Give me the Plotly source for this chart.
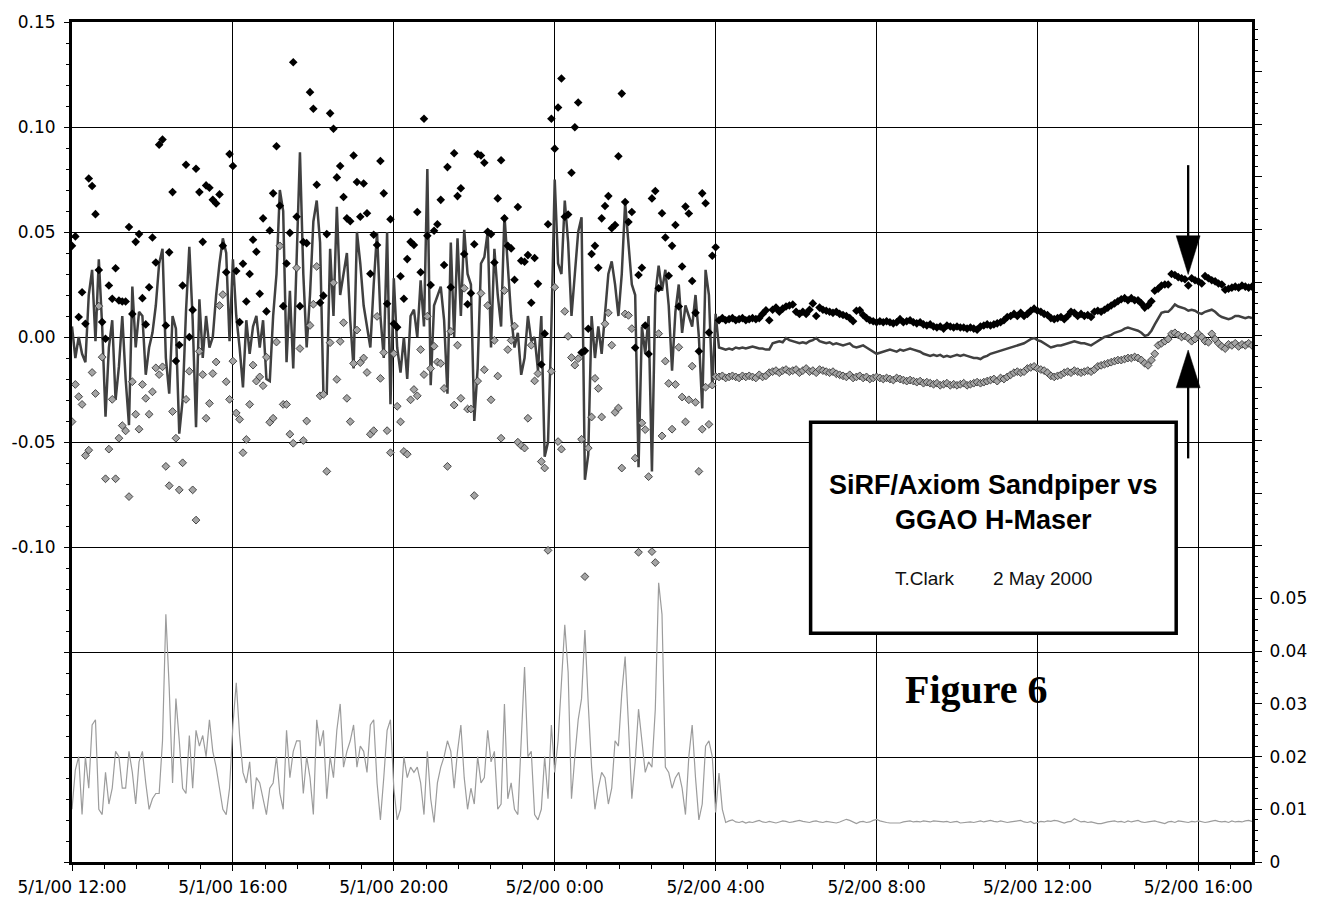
import plotly.graph_objects as go
import pandas as pd

# ---------------- data (values in thousandths of the axis unit) ----------------
# 5-minute samples, 5/1/00 12:00 -> 5/2/00 4:00 (left part) and 4:05 -> 17:20 (right part)
black_left = [
    43.4, 47.9, 9.5, 21.3, 6.3, 75.5, 71.9, 58.5, 31.9, 7.1,
    -0.8, 24.5, 18.2, 32.7, 17.4, 16.9, 16.9, 52.4, 11.0, 45.3,
    49.0, 18.5, 6.0, 23.7, 47.4, 35.5, 91.6, 94.0, 5.5, 40.3,
    69.0, -11.4, -3.8, 24.5, 82.0, 0.0, 12.9, 80.1, 69.0, 45.3,
    72.2, 71.1, 65.3, 63.6, 67.9, 43.4, 30.8, 87.1, 81.4, 31.4,
    7.1, 34.9, 16.9, 30.0, 46.3, 40.6, 20.6, 56.5, 12.2, 50.7,
    68.4, 90.8, 62.5, 14.7, 35.0, 49.6, 130.8, 57.3, 14.7, 45.2,
    44.7, 116.6, 108.7, 72.5, 16.3, 19.7, 49.0, 106.5, 99.2, 76.0,
    81.4, 66.7, 56.5, 55.1, 86.4, 73.8, 57.3, 73.1, 58.9, 30.1,
    48.7, 43.8, 83.8, 68.4, 15.8, 56.1,
    6.3, 4.7, 28.9, 18.2, 37.1, 45.3, 43.8, 59.5, 30.8, 103.9,
    48.2, 24.8, 50.6, 53.7, 65.3, 34.3, 80.9, 23.7, 87.5, 67.1,
    70.8, 39.5, 15.6, 20.8, 44.2, 87.1, 86.4, 83.0, 50.1, 49.0,
    35.5, 66.0, 84.2, 56.5, 43.4, 42.2, 27.3, 61.9, 36.3, 35.8,
    39.0, 16.3, 37.6, 25.3, -13.1, 1.6, 53.7, 103.9, 89.7, 109.3,
    123.1, 57.3, 58.3, 78.2, 99.9, 111.7, -7.4, -6.6, 3.9, 39.5,
    43.4, 33.0, 56.5, 62.4, 67.1, 51.8, 53.3, 86.1, 115.9, 64.3,
    54.8, 59.5, -5.1, 29.5, 33.0, 5.5, -8.1, 66.0, 69.5, 23.2,
    58.9, 47.4, 29.2, 43.4, 53.3, 14.5, 33.6, 62.1, 58.8, 26.7,
    11.5, -6.8, 68.4, 63.7, 2.1, 38.7, 42.7,
]
black_right = [
    8, 9, 8, 8.5, 9, 8, 8.5, 9, 8, 8.5, 9, 8.5, 9,
    11, 12.7, 8, 13, 14, 12, 13.5, 14.5, 15, 15.5, 12, 11, 12, 11, 13, 16, 10,
    14, 13, 12.5, 12, 11.5, 12, 11, 10.5, 10, 9,
    7.5, 12.5, 12.7, 10.5, 9, 8, 7.5, 7, 7.5, 7, 7.5, 7, 6.5, 7, 8.5, 7, 7.5, 8, 7, 6.5,
    7, 6, 5.5, 6, 5, 4.5, 5, 4, 5.5, 5, 4.5, 5, 4.5, 4.5, 4, 4.5, 4, 3.5, 5, 5.5,
    6, 5.5, 6, 6.5, 7, 8, 9.5, 10, 11, 10, 11.5, 10, 11, 12.5, 13.5, 12.5, 12, 11, 10.5, 9,
    8.5, 9, 9.5, 8.5, 10, 12, 11.5, 10, 11, 10, 10.5, 9.5, 12, 12.5, 12, 13, 14, 15, 16, 17,
    18, 18.5, 17.5, 18.5, 17.5, 17.5, 16, 14, 15, 17, 22, 23, 24.5, 25, 25, 30, 29.5, 28.5, 28, 27.5,
    24.5, 28, 27, 26.5, 25.5, 29, 28, 27, 26.5, 25.5, 25, 22.5, 23, 23.5, 24, 23.5, 24.5, 24, 23.5, 24,
]
gray_left = [
    -40.3, -22.6, -28.4, -32.1, -56.4, -53.9, -16.9, -26.9, 14.7, -9.6,
    -67.5, -53.4, -29.7, -67.5, -48.2, -42.2, -44.7, -76.0, -21.3, -36.8,
    -43.9, -22.6, -29.2, -36.8, -26.1, -14.7, -17.9, -14.2, -61.6, -70.8,
    -35.5, -48.2, -72.8, -59.9, -29.7, -16.3, -72.8, -87.2, -6.8, -17.9,
    -38.7, -31.6, -17.4, -11.9, 15.0, 20.2, -21.3, -29.7, -11.5, -36.2,
    -39.2, -55.1, -48.8, -32.1, -13.4, -21.0, -19.0, -23.2, -9.6, -40.6,
    -38.7, -2.4, 43.4, -32.1, -32.1, -46.3, -50.6, 32.9, -5.5, -49.3,
    -40.0, 5.5, 15.6, 33.6, -28.0, -27.3, -64.0, -2.7, 25.8, -20.2,
    -2.1, 6.8, -29.2, -40.3, -12.6, 3.3, -12.2, -10.0, -16.9, -46.3,
    -44.6, 9.8, -19.7, -7.4, -44.6, -55.1,
    -7.9, -33.0, -40.4, -54.5, -55.8, -29.9, -25.0, -28.0, -6.0, -17.9,
    9.9, -15.0, -4.4, -11.9, -12.6, -24.5, -61.6, 2.7, -32.4, -3.9,
    -29.2, 23.2, -34.3, -34.3, -75.5, -21.0, 20.8, -15.6, 15.0, -29.9,
    -1.6, -18.6, -48.2, 22.1, -6.0, -1.6, 5.2, -50.1, -51.7, -52.9,
    -38.7, -3.9, -20.9, -17.4, -59.3, -62.4, -101.6, -16.3, 23.7, -49.8,
    -53.4, 12.2, 0.3, -9.8, -13.4, -10.3, -48.7, -114.1, -52.9, -38.1,
    -19.7, -24.5, -38.1, 6.3, 11.5, -3.9, -35.9, -33.8, -62.4, 11.0,
    10.3, 4.0, -57.7, -102.5, -40.9, -44.1, -66.5, -102.2, -107.4, 1.6,
    -47.1, -11.5, -22.1, -43.9, -22.6, -4.9, -28.6, -40.4, -29.9, -13.9,
    -31.1, -64.0, -43.9, -23.9, -41.6, -22.9, -18.9,
]
gray_right = [
    -19, -18.5, -19.5, -19, -18.5, -19, -19.5, -18.5, -19, -18.5, -19, -19.5, -18, -19, -18.5,
    -17, -16.5, -16, -17, -16, -15.5, -16.5, -16, -15.5, -17, -16, -15, -16.5, -16, -17,
    -15.5, -16, -16.5, -17, -16.5,
    -17.5, -18, -18.5, -19, -18, -19.5, -19, -18.5, -19.5, -19, -20, -19.5, -19, -19.5, -20,
    -19.5, -20, -20.5, -19.5, -20, -20.5, -21, -20.5, -21, -21.5, -21, -22, -21.5, -22, -22.5,
    -22, -23, -22.5, -22, -23, -22.5, -23, -22.5, -22, -23, -22.5, -22, -21.5, -22, -21.5,
    -21, -20.5, -20, -21, -19.5, -20, -19, -18, -17, -16.5,
    -17, -16.5, -15, -14.5, -14, -15, -15.5, -16, -17, -18.5,
    -19, -18.5, -18, -17, -16.5, -17, -16, -16.5, -17, -16.5, -16, -16.5, -15.5, -14, -13.5,
    -13, -12.5, -12, -11.5, -11, -11, -10.5, -10, -10, -9.5, -10, -11, -12.5, -13.5, -11,
    -8, -4, -3, -2, -1, 1.5, 2, 1, 0, 0.5, -0.5, -2, -1, 1.5, 0,
    -2, -2.5, 1.5, -1, -3, -4.5, -5.5, -3.5, -4, -3, -4.5, -3.5, -4, -3, -4,
]
dark_left = [
    5, -10, 0, -8, -12, 20, 32, -2, 37, 5,
    -38, -5, 8, -30, -14, 10, -20, -42, 24, -5,
    12, 10, -18, -5, 2, 15, 35, 42, -10, -27,
    10, 4, -46, -30, 12, 43, 8, -43, 18, -10,
    10, -5, 0, 20, 35, 47, 40, -2, 37, 10,
    -5, -24, 8, -8, 5, 10, -5, 8, -20, -21,
    10, 30, 70, 60, -12, 22, -15, 40, 88, 30,
    -5, 20, 55, 65, 45, -27, -27, 42, 10, 62,
    20, 30, 40, 8, -15, 50, 35, 15, 5, -5,
    25, 50, 10, -10, 50, -32,
    28, -5, -17, 0, -20, 10, 13, 0, 27, 5,
    80, -23, 15, 20, 24, 8, -27, 45, 0, 47,
    10, 51, 30, 25, -40, -15, 35, 38, 50, -5,
    42, 20, 5, 58, 35, 10, -5, 2, -18, -10,
    10, -2, 0, -16, 10, -57, -50, 5, 75, 35,
    30, 65, 45, 10, 30, 50, 57, -68, -56, 10,
    -10, 5, -8, 12, 30, 36, 25, 10, 30, 64,
    45, 25, 20, -62, 5, -8, 10, -64, 20, 34,
    22, 32, 15, -16, 12, 25, 2, 15, 10, 5,
    20, 0, -34, 32, 20, -24, 11,
]
dark_right = [
    -5, -5.5, -6, -5.5, -6, -5, -5.5, -5, -5.5, -5, -4.5, -5, -5.5,
    -5.5, -6, -6, -3, -2.5, -2, -2.5, -0.5,
    -1.5, -2, -2.5, -3, -2.5, -3, -2, -1.5, -0.5,
    -2, -2.5, -3, -2.5, -3.5, -3, -3.5, -4, -3.5, -3, -4.5, -5,
    -4.5, -4, -5, -6, -7, -8, -7.5, -7,
    -6.5, -6, -6.5, -7, -6, -6.5, -6, -5.5, -6, -6.5, -7,
    -8, -8.5, -9, -8.5, -9, -8.5, -9.5, -9, -9.5, -9, -8.5,
    -9, -8.5, -9, -9.5, -10, -10, -10.5, -9.5, -9, -8, -7.5, -7,
    -6.5, -6, -5.5, -5, -4.5, -4, -3.5, -3, -2, -1, -0.5,
    -1.5, -2, -3, -4, -5, -4.5, -4, -4, -3.5, -3,
    -2.5, -2, -2.5, -3, -3, -3.5, -4, -3, -2, -1,
    0, 0.5, 1, 2, 2.5, 3, 4, 4.5, 4, 3.5, 3, 2, 0.5, 1,
    3, 6, 9, 11.5, 12, 12, 13.5, 15.5, 14.5, 14, 13.5, 12.5,
    13, 12.5, 11.5, 11, 12, 12.5, 13, 12, 10.5, 9.5, 9, 8.5,
    9, 10, 10, 9.5, 9, 9.5, 9,
]
# spread series, read on the right-hand axis
light_left = [
    10, 17.5, 20, 9, 20, 14, 26, 27, 10, 9,
    17, 11, 14, 21, 20, 14, 14, 21, 17, 11,
    19, 21, 15, 10, 12, 13, 13, 23, 47, 33,
    15, 31, 23, 14, 13, 24, 14, 25, 22, 24,
    20, 27, 21, 18, 14, 10, 9, 14, 26, 34,
    24, 17, 15, 19, 10, 16, 15, 12, 9, 14,
    15, 20, 13, 10, 25, 16, 21, 23, 23, 13,
    20, 16, 9, 27, 22, 25, 12, 20, 16, 25,
    30, 18, 21, 23, 26, 18, 22, 21, 17, 26,
    27, 15, 8, 16, 25, 27,
    14, 8, 10, 20, 16, 18, 17, 18, 15, 9,
    21, 12, 7.5, 15, 18, 20, 23, 21, 14, 21,
    26, 16, 10, 14, 11, 20, 15, 16, 25, 19,
    21, 10, 11, 30, 12, 15, 10, 9, 22, 37,
    20, 21, 9, 8, 10, 20, 12, 26, 17, 23,
    34, 45, 36, 12, 20, 27, 31, 44, 30, 18,
    10, 14, 17, 16, 11, 14, 23, 22, 32, 39,
    26, 12, 19, 29, 23, 17, 19, 18, 29, 53,
    47, 18, 17, 14, 16, 17, 14, 9, 20, 26,
    16, 8, 11, 22, 23, 20, 9.4,
]
light_right = [
    16.9, 10, 7.5, 7.8, 8.0, 7.6, 7.5, 7.7, 7.4, 7.6, 7.5, 7.7, 7.9, 7.6, 7.5, 7.7,
    7.6, 7.4, 7.6, 7.8, 7.7, 7.5, 7.6, 7.8, 7.9, 7.7, 7.6, 7.5, 7.7, 7.8, 7.6, 7.5,
    7.7, 7.6, 7.5, 7.4, 7.6, 7.8, 8.1, 7.9, 7.6, 7.3, 7.6, 7.7, 7.5, 7.6, 7.9, 8.1,
    7.8, 7.6, 7.5, 7.4, 7.4, 7.3, 7.4, 7.6, 7.7, 7.8, 7.6, 7.7, 7.6, 7.8, 7.7, 7.6,
    7.8, 7.7, 7.7, 7.6, 7.7, 7.5, 7.6, 7.7, 7.4, 7.5, 7.5, 7.6, 7.5, 7.7, 7.8, 7.6,
    7.7, 7.9, 7.7, 7.6, 7.8, 7.7, 7.5, 7.6, 7.7, 7.8, 7.9, 7.6, 7.5, 7.7, 7.3, 7.5,
    7.7, 7.6, 7.8, 7.7, 7.9, 7.8, 7.6, 7.4, 7.6, 7.7, 8.2, 7.9, 7.6, 7.7, 7.5, 7.6,
    7.4, 7.3, 7.3, 7.5, 7.6, 7.7, 7.8, 7.6, 7.7, 7.5, 7.8, 7.6, 7.7, 7.9, 7.6, 7.5,
    7.6, 7.7, 7.8, 7.6, 7.5, 7.3, 7.6, 7.7, 7.5, 7.8, 7.7, 7.6, 7.5, 7.7, 7.6, 7.8,
    7.7, 7.5, 7.6, 7.8, 7.9, 7.7, 7.6, 7.7, 7.5, 7.8, 7.6, 7.7, 7.6, 7.8, 7.9, 7.7,
]

LEFT_START, LEFT_END = "2000-05-01 12:00", "2000-05-02 04:00"
RIGHT_START, RIGHT_END = "2000-05-02 04:05", "2000-05-02 17:20"
SCALE = 0.001


def series(left, right):
    t = list(pd.date_range(LEFT_START, LEFT_END, periods=len(left))) + \
        list(pd.date_range(RIGHT_START, RIGHT_END, periods=len(right)))
    return t, [v * SCALE for v in left + right]


fig = go.Figure()

tx, ty = series(light_left, light_right)
fig.add_trace(go.Scatter(x=tx, y=ty, mode="lines", yaxis="y2",
                         line=dict(color="#9c9c9c", width=1.2), hoverinfo="skip"))
tx, ty = series(dark_left, dark_right)
fig.add_trace(go.Scatter(x=tx, y=ty, mode="lines",
                         line=dict(color="#404040", width=2.5), hoverinfo="skip"))
tx, ty = series(black_left, black_right)
fig.add_trace(go.Scatter(x=tx, y=ty, mode="markers",
                         marker=dict(symbol="diamond", size=6.6, color="black",
                                     line=dict(width=0)), hoverinfo="skip"))
tx, ty = series(gray_left, gray_right)
fig.add_trace(go.Scatter(x=tx, y=ty, mode="markers",
                         marker=dict(symbol="diamond", size=6, color="#a4a4a4",
                                     line=dict(width=0.9, color="#383838")),
                         hoverinfo="skip"))

# ---------------- axes ----------------
TICKFONT = dict(family="DejaVu Sans", size=17, color="black")
left_vals = [-0.25, -0.20, -0.15, -0.10, -0.05, 0.0, 0.05, 0.10, 0.15]
left_text = ["", "", "", "-0.10", "-0.05", "0.00", "0.05", "0.10", "0.15"]
right_vals = [i / 100 for i in range(16)]
right_text = ["0", "0.01", "0.02", "0.03", "0.04", "0.05"] + [""] * 10

fig.update_layout(
    width=1319, height=909,
    margin=dict(l=70, r=66, t=18, b=46, pad=0),
    paper_bgcolor="white", plot_bgcolor="white",
    showlegend=False,
    xaxis=dict(
        type="date", range=["2000-05-01 12:00", "2000-05-02 17:20"],
        tick0="2000-05-01 12:00", dtick=4 * 3600 * 1000,
        tickformat="%-m/%-d/%y %-H:%M", tickfont=TICKFONT,
        showgrid=True, gridcolor="black", gridwidth=1,
        ticks="outside", ticklen=6, tickwidth=1, tickcolor="black",
        showline=True, linecolor="black", linewidth=3, mirror=True,
        zeroline=False, ticklabelstandoff=2,
        minor=dict(tick0="2000-05-01 12:00", dtick=48 * 60 * 1000,
                   ticks="outside", ticklen=4, tickwidth=1, tickcolor="black",
                   showgrid=False),
    ),
    yaxis=dict(
        range=[-0.25, 0.15], tickmode="array", tickvals=left_vals, ticktext=left_text,
        tickfont=TICKFONT, showgrid=True, gridcolor="black", gridwidth=1,
        ticks="outside", ticklen=5, tickwidth=1, tickcolor="black",
        showline=True, linecolor="black", linewidth=3, zeroline=False,
        ticklabelstandoff=5,
        minor=dict(tickmode="linear", tick0=0, dtick=0.01, ticks="outside",
                   ticklen=3, tickwidth=1, tickcolor="black", showgrid=False),
    ),
    yaxis2=dict(
        overlaying="y", side="right", range=[0, 0.1594],
        tickmode="array", tickvals=right_vals, ticktext=right_text,
        tickfont=TICKFONT, showgrid=False, zeroline=False,
        ticks="outside", ticklen=7, tickwidth=1, tickcolor="black",
        showline=True, linecolor="black", linewidth=3, ticklabelstandoff=4,
        minor=dict(tickmode="linear", tick0=0, dtick=0.002, ticks="outside",
                   ticklen=3, tickwidth=1, tickcolor="black", showgrid=False),
    ),
)

# ---------------- decorations (positions in paper fractions) ----------------
PL, PT, PW, PH = 70, 18, 1183, 845


def px(X, Y):
    return (X - PL) / PW, (PT + PH - Y) / PH


bx0, by0 = px(810.5, 633)
bx1, by1 = px(1177, 420.7)
fig.add_shape(type="rect", xref="paper", yref="paper", x0=bx0, y0=by0, x1=bx1, y1=by1,
              fillcolor="white", line=dict(color="black", width=3.5), layer="above")


def path(points):
    pts = [px(X, Y) for X, Y in points]
    return "M" + " L".join(f"{x:.5f},{y:.5f}" for x, y in pts) + " Z"


for seg in [((1189, 162), (1189, 236)), ((1189, 385), (1189, 457))]:
    (xa, ya), (xb, yb) = px(*seg[0]), px(*seg[1])
    fig.add_shape(type="line", xref="paper", yref="paper", x0=xa, y0=ya, x1=xb, y1=yb,
                  line=dict(color="black", width=2.3), layer="above")
for tri in [[(1177, 233), (1201, 233), (1189, 272)], [(1189, 348), (1201, 386), (1177, 386)]]:
    fig.add_shape(type="path", xref="paper", yref="paper", path=path(tri),
                  fillcolor="black", line=dict(color="black", width=0.5), layer="above")

ax, ay = px(994, 501)
fig.add_annotation(xref="paper", yref="paper", x=ax, y=ay, showarrow=False,
                   text="<b>SiRF/Axiom Sandpiper vs<br>GGAO H-Maser</b>",
                   font=dict(family="Liberation Sans", size=27, color="black"),
                   align="center", xanchor="center", yanchor="middle")
ax, ay = px(925, 578)
fig.add_annotation(xref="paper", yref="paper", x=ax, y=ay, showarrow=False,
                   text="T.Clark", font=dict(family="Liberation Sans", size=19, color="#111"),
                   xanchor="center", yanchor="middle")
ax, ay = px(1043, 578)
fig.add_annotation(xref="paper", yref="paper", x=ax, y=ay, showarrow=False,
                   text="2 May 2000", font=dict(family="Liberation Sans", size=19, color="#111"),
                   xanchor="center", yanchor="middle")
ax, ay = px(976.5, 689)
fig.add_annotation(xref="paper", yref="paper", x=ax, y=ay, showarrow=False,
                   text="<b>Figure 6</b>",
                   font=dict(family="Liberation Serif", size=40, color="black"),
                   xanchor="center", yanchor="middle")

fig.write_html("out.html")
